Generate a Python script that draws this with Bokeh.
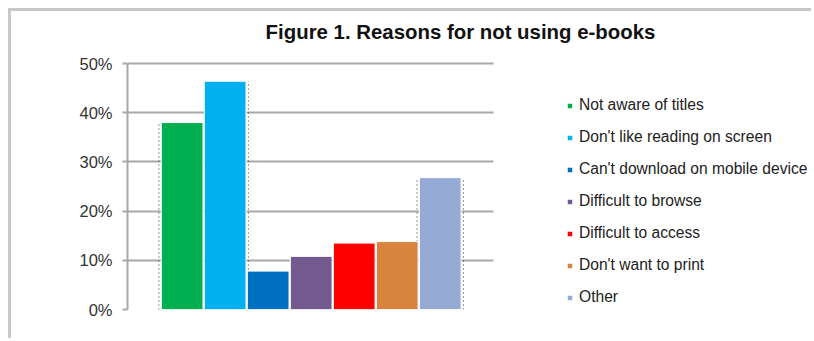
from bokeh.plotting import figure
from bokeh.models import (ColumnDataSource, Legend, LegendItem, Range1d, Label,
                          NumeralTickFormatter, FixedTicker)
from bokeh.embed import file_html
from bokeh.resources import INLINE

categories = ["Not aware of titles", "Don't like reading on screen",
              "Can't download on mobile device", "Difficult to browse",
              "Difficult to access", "Don't want to print", "Other"]
values = [0.38, 0.464, 0.078, 0.108, 0.135, 0.138, 0.268]
palette = ["#00b050", "#00b0f0", "#0070c0", "#725a8e", "#ff0000", "#d9843e", "#95abd5"]
y_ticks = [0, 0.1, 0.2, 0.3, 0.4, 0.5]
title_text = "Figure 1. Reasons for not using e-books"

xs = list(range(len(categories)))
src = ColumnDataSource(dict(x=xs, top=values, color=palette, label=categories))

# faint dotted "shadow" edges seen beside some bars in the reference
shadow_bars = [(0, -1), (1, 1), (6, -1), (6, 1)]
sx = [xs[i] + side * 0.54 for i, side in shadow_bars]
sy = [values[i] for i, side in shadow_bars]
shadow = ColumnDataSource(dict(x=sx, y0=[0] * len(sx), y1=sy))

X0, X1 = -1.27, 7.24
p = figure(width=803, height=330, output_backend="svg", toolbar_location=None,
           x_range=Range1d(X0, 14.70), y_range=Range1d(0, 0.6057),
           min_border_left=116, min_border_right=0, min_border_top=0,
           min_border_bottom=32)
p.styles = {"margin-left": "8px", "margin-top": "8px",
            "border-left": "3px solid #c8c8c8", "border-top": "3px solid #c8c8c8"}
p.outline_line_color = None
p.background_fill_color = "white"
p.border_fill_color = "white"

p.segment(x0="x", y0="y0", x1="x", y1="y1", source=shadow,
          line_color="#333333", line_width=1, line_dash="1 3")

r = p.vbar(x="x", top="top", width=0.97, bottom=0, source=src,
           fill_color="color", line_color="white", line_width=1)

p.xaxis.visible = False
p.xgrid.visible = False
p.ygrid.grid_line_color = "#a8a8a8"
p.ygrid.grid_line_width = 2
p.ygrid.cross_bounds = (X0, X1)
p.yaxis.ticker = FixedTicker(ticks=y_ticks)
p.yaxis.bounds = (0, 0.5)
p.yaxis.formatter = NumeralTickFormatter(format="0%")
p.yaxis.axis_line_color = "#a8a8a8"
p.yaxis.axis_line_width = 2
p.yaxis.major_tick_line_color = "#a8a8a8"
p.yaxis.major_tick_line_width = 2
p.yaxis.major_tick_out = 5
p.yaxis.major_tick_in = 0
p.yaxis.minor_tick_line_color = None
p.yaxis.major_label_text_font = "Liberation Sans"
p.yaxis.major_label_text_font_size = "16.5px"
p.yaxis.major_label_text_color = "#333333"
p.yaxis.major_label_standoff = 10

title = Label(x=6.47, y=0.565, text=title_text, text_align="center",
              text_baseline="middle", text_font="Liberation Sans",
              text_font_size="20.4px", text_font_style="bold", text_color="#111111")
p.add_layout(title)

items = [LegendItem(label=categories[i], renderers=[r], index=i) for i in range(len(categories))]
legend = Legend(items=items, location=(439, 2), orientation="vertical",
                glyph_width=7, glyph_height=7, label_standoff=6,
                label_height=20, spacing=12, padding=0, margin=0,
                border_line_color=None, background_fill_alpha=0,
                label_text_font="Liberation Sans", label_text_font_size="15.6px",
                label_text_color="#222222")
p.add_layout(legend, "center")

open("out.html", "w").write(file_html(p, INLINE))
